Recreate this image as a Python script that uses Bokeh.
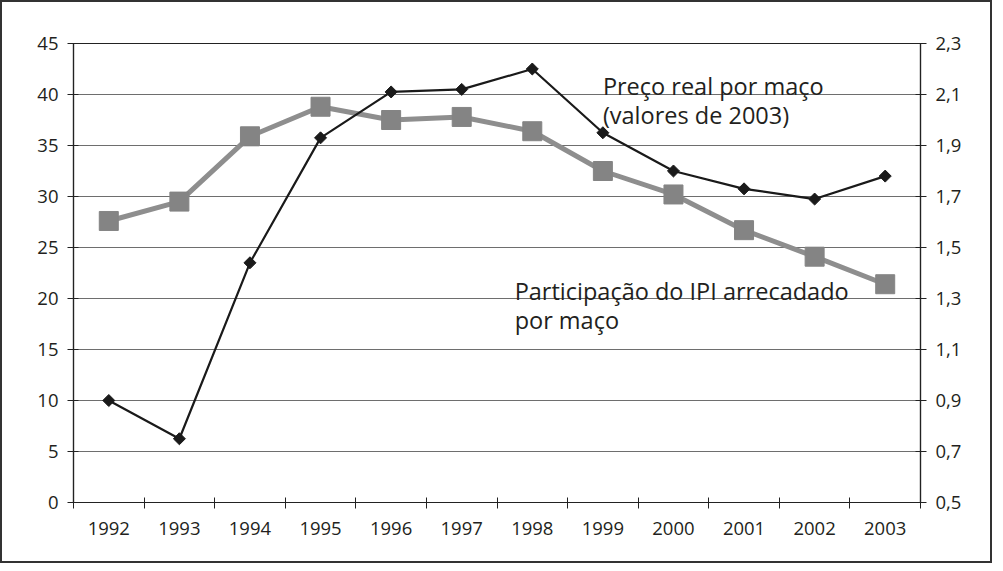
from bokeh.plotting import figure
from bokeh.models import (Range1d, LinearAxis, FixedTicker, CustomJSTickFormatter,
                          Label, Grid)
from bokeh.embed import file_html
from bokeh.resources import INLINE

# ---- data ----
years = ["1992", "1993", "1994", "1995", "1996", "1997",
         "1998", "1999", "2000", "2001", "2002", "2003"]
# Participação do IPI arrecadado por maço (%, left axis)
ipi_share = [27.6, 29.5, 35.9, 38.8, 37.5, 37.8, 36.4, 32.5, 30.2, 26.7, 24.1, 21.4]
# Preço real por maço (R$ de 2003, right axis)
real_price = [0.90, 0.75, 1.44, 1.93, 2.11, 2.12, 2.20, 1.95, 1.80, 1.73, 1.69, 1.78]

left_ticks = [0, 5, 10, 15, 20, 25, 30, 35, 40, 45]
right_ticks = [0.5, 0.7, 0.9, 1.1, 1.3, 1.5, 1.7, 1.9, 2.1, 2.3]

label_price = ["Preço real por maço", "(valores de 2003)"]
label_ipi = ["Participação do IPI arrecadado", "por maço"]

FONT = "Open Sans"
TXT = "#231f20"
TICK_FS = "18.5px"
ANN_FS = "23.5px"

xpos = [i + 0.5 for i in range(len(years))]

p = figure(width=992, height=563, output_backend="svg", toolbar_location=None,
           x_range=Range1d(0, len(years)), y_range=Range1d(left_ticks[0], left_ticks[-1]),
           min_border_left=71, min_border_right=74, min_border_top=41, min_border_bottom=63,
           x_axis_type=None, y_axis_type=None)
p.styles = {"border": "2px solid #333", "box-sizing": "border-box"}
p.background_fill_color = "white"
p.border_fill_color = "white"
p.outline_line_color = "#222"
p.outline_line_width = 1.2
p.extra_y_ranges = {"right": Range1d(right_ticks[0], right_ticks[-1])}

# axes
yl = LinearAxis(ticker=FixedTicker(ticks=left_ticks))
ybase = dict(axis_line_color="#222", axis_line_width=1.2,
             major_tick_line_color="#222", major_tick_in=5, major_tick_out=6,
             minor_tick_line_color=None, major_label_text_font=FONT,
             major_label_text_font_size=TICK_FS, major_label_text_color=TXT,
             major_label_standoff=9)
for k, v in ybase.items():
    setattr(yl, k, v)
p.add_layout(yl, "left")

yr = LinearAxis(y_range_name="right", ticker=FixedTicker(ticks=right_ticks),
                formatter=CustomJSTickFormatter(code="return tick.toFixed(1).replace('.', ',');"))
for k, v in ybase.items():
    setattr(yr, k, v)
p.add_layout(yr, "right")

xa = LinearAxis(ticker=FixedTicker(ticks=xpos, minor_ticks=list(range(len(years) + 1))),
                formatter=CustomJSTickFormatter(args=dict(years=years),
                                                code="return years[Math.round(tick - 0.5)];"))
xa.axis_line_color = "#222"
xa.axis_line_width = 1.2
xa.major_tick_line_color = None
xa.major_tick_in = 0
xa.major_tick_out = 6
xa.minor_tick_line_color = "#222"
xa.minor_tick_in = 5
xa.minor_tick_out = 6
xa.major_label_text_font = FONT
xa.major_label_text_font_size = TICK_FS
xa.major_label_text_color = TXT
xa.major_label_standoff = 13
p.add_layout(xa, "below")

# grid
g = Grid(dimension=1, ticker=FixedTicker(ticks=left_ticks))
g.grid_line_color = "#6e6e6e"
g.grid_line_width = 1.2
p.add_layout(g)

# series
p.line(xpos, ipi_share, line_color="#8e8e8e", line_width=5)
p.scatter(xpos, ipi_share, marker="square", size=19, fill_color="#848484",
          line_color="#848484")

p.line(xpos, real_price, y_range_name="right", line_color="#1a1a1a", line_width=2.2)
p.scatter(xpos, real_price, y_range_name="right", marker="square", angle=0.785398,
          size=8.5, fill_color="#1a1a1a", line_color="#1a1a1a")

# labels
for i, t in enumerate(label_price):
    p.add_layout(Label(x=7.5, y=40.82 - 2.84 * i, text=t, text_font=FONT,
                       text_font_size=ANN_FS, text_color=TXT, text_baseline="alphabetic"))
for i, t in enumerate(label_ipi):
    p.add_layout(Label(x=6.25, y=20.70 - 2.82 * i, text=t, text_font=FONT,
                       text_font_size=ANN_FS, text_color=TXT, text_baseline="alphabetic"))

open("out.html", "w").write(file_html(p, INLINE))
